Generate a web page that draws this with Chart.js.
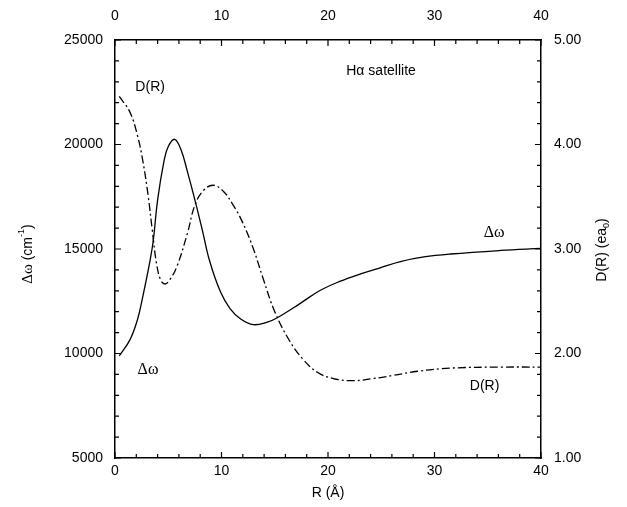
<!DOCTYPE html>
<html>
<head>
<meta charset="utf-8">
<script src="https://cdn.jsdelivr.net/npm/chart.js@4"></script>
<style>
html,body{margin:0;padding:0;background:#fff;}
#wrap{width:627px;height:507px;}
</style>
</head>
<body>
<div id="wrap"><canvas id="c" width="627" height="507"></canvas></div>
<script>
// ---- data ----
const R_omega = [0.4, 1.4, 2.1, 2.6, 3.3, 3.6, 4.0, 4.6, 5.0, 5.6, 6.2, 6.8, 7.5, 8.2, 8.9, 9.9, 10.8, 11.8, 13.0, 14.3, 15.2, 17.4, 19.2, 21.1, 23.0, 24.9, 26.8, 29.0, 31.5, 36.2, 40.0];
const omega   = [9880, 10650, 11600, 12700, 14470, 15430, 17340, 19200, 19900, 20250, 19750, 18700, 17350, 15900, 14400, 12950, 12150, 11650, 11380, 11500, 11700, 12400, 13000, 13450, 13800, 14100, 14400, 14620, 14760, 14930, 15030];
const R_D = [0.4, 1.4, 2.1, 2.6, 3.1, 3.5, 3.9, 4.3, 4.7, 5.1, 5.8, 6.8, 7.5, 8.3, 9.2, 10.1, 11.1, 12.0, 13.0, 13.9, 15.0, 16.4, 17.7, 19.0, 20.5, 22.4, 24.2, 26.1, 28.4, 31.5, 36.2, 40.0];
const D   = [4.46, 4.31, 4.09, 3.85, 3.52, 3.18, 2.86, 2.70, 2.665, 2.70, 2.83, 3.15, 3.42, 3.56, 3.61, 3.56, 3.42, 3.25, 3.00, 2.72, 2.40, 2.12, 1.94, 1.82, 1.76, 1.74, 1.76, 1.79, 1.83, 1.86, 1.87, 1.87];
const xTicks = [0, 10, 20, 30, 40];
const leftTicks = [5000, 10000, 15000, 20000, 25000];
const rightTicks = [1, 2, 3, 4, 5];

const SANS = '"Liberation Sans", Arial, sans-serif';
const SERIF = '"Liberation Serif", "Times New Roman", serif';

const omegaPts = R_omega.map((r, i) => ({x: r, y: omega[i]}));
const dPts = R_D.map((r, i) => ({x: r, y: D[i]}));

function fixedTicks(list) {
  return function(scale) { scale.ticks = list.map(v => ({value: v})); };
}

const tickPlugin = {
  id: 'innerTicks',
  afterDraw(chart) {
    const ctx = chart.ctx;
    const x = chart.scales.x, y = chart.scales.y, y2 = chart.scales.y2;
    const a = chart.chartArea;
    ctx.save();
    ctx.strokeStyle = '#000';
    ctx.lineWidth = 1.2;
    ctx.beginPath();
    for (let v = 0; v <= 40; v += 2) {
      const px = x.getPixelForValue(v);
      const len = (v % 10 === 0) ? 6 : 4;
      ctx.moveTo(px, a.bottom); ctx.lineTo(px, a.bottom - len);
      ctx.moveTo(px, a.top); ctx.lineTo(px, a.top + len);
    }
    for (let v = 5000; v <= 25000; v += 1000) {
      const py = y.getPixelForValue(v);
      const len = (v % 5000 === 0) ? 6 : 4;
      ctx.moveTo(a.left, py); ctx.lineTo(a.left + len, py);
    }
    for (let i = 0; i <= 20; i++) {
      const v = 1 + i * 0.2;
      const py = y2.getPixelForValue(v);
      const len = (i % 5 === 0) ? 6 : 4;
      ctx.moveTo(a.right, py); ctx.lineTo(a.right - len, py);
    }
    ctx.stroke();

    // annotations
    ctx.fillStyle = '#000';
    ctx.textAlign = 'center';
    ctx.textBaseline = 'middle';
    const P = (r, w) => [x.getPixelForValue(r), y.getPixelForValue(w)];
    ctx.font = '14px ' + SANS;
    let p = P(24.98, 23520); ctx.fillText('H\u03B1 satellite', p[0], p[1]);
    p = P(3.3, 22750); ctx.fillText('D(R)', p[0], p[1]);
    p = P(34.7, 8440); ctx.fillText('D(R)', p[0], p[1]);
    ctx.font = '16px ' + SERIF;
    p = P(3.1, 9210); ctx.fillText('\u0394\u03C9', p[0], p[1]);
    p = P(35.6, 15770); ctx.fillText('\u0394\u03C9', p[0], p[1]);

    // left axis title (rotated)
    const midY = (a.top + a.bottom) / 2;
    ctx.save();
    ctx.translate(28, midY + 5);
    ctx.rotate(-Math.PI / 2);
    ctx.textAlign = 'left';
    ctx.font = '15px ' + SERIF;
    const t0 = '\u0394\u03C9';
    const w0 = ctx.measureText(t0).width;
    ctx.font = '14px ' + SANS;
    const t1 = ' (cm';
    const w1 = ctx.measureText(t1).width;
    ctx.font = '9px ' + SANS;
    const w2 = ctx.measureText('-1').width;
    ctx.font = '14px ' + SANS;
    const w3 = ctx.measureText(')').width;
    let sx = -(w0 + w1 + w2 + w3) / 2;
    ctx.font = '15px ' + SERIF;
    ctx.fillText(t0, sx, 0);
    ctx.font = '14px ' + SANS;
    ctx.fillText(t1, sx + w0, 0);
    ctx.font = '9px ' + SANS;
    ctx.fillText('-1', sx + w0 + w1, -6);
    ctx.font = '14px ' + SANS;
    ctx.fillText(')', sx + w0 + w1 + w2, 0);
    ctx.restore();

    // right axis title (rotated, reading upward)
    ctx.save();
    ctx.translate(602, midY + 1);
    ctx.rotate(-Math.PI / 2);
    ctx.textAlign = 'left';
    ctx.font = '14px ' + SANS;
    const r1 = 'D(R) (ea';
    const rw1 = ctx.measureText(r1).width;
    ctx.font = '9px ' + SANS;
    const rw2 = ctx.measureText('0').width;
    ctx.font = '14px ' + SANS;
    const rw3 = ctx.measureText(')').width;
    sx = -(rw1 + rw2 + rw3) / 2;
    ctx.fillText(r1, sx, 0);
    ctx.font = '9px ' + SANS;
    ctx.fillText('0', sx + rw1, 5);
    ctx.font = '14px ' + SANS;
    ctx.fillText(')', sx + rw1 + rw2, 0);
    ctx.restore();

    ctx.restore();
  }
};

const tickFont = {family: SANS, size: 14};
const noGrid = {display: false, drawTicks: false};
const border = {display: true, color: '#000', width: 1.5};

new Chart(document.getElementById('c'), {
  type: 'line',
  data: {
    datasets: [
      {label: 'omega', data: omegaPts, xAxisID: 'x', yAxisID: 'y', borderColor: '#000', borderWidth: 1.3,
       pointRadius: 0, fill: false, tension: 0.4},
      {label: 'D', data: dPts, xAxisID: 'x', yAxisID: 'y2', borderColor: '#000', borderWidth: 1.3,
       borderDash: [8, 3, 2, 3], pointRadius: 0, fill: false, tension: 0.4}
    ]
  },
  options: {
    responsive: false,
    animation: false,
    devicePixelRatio: 1,
    layout: {padding: 0},
    plugins: {legend: {display: false}, tooltip: {enabled: false}},
    scales: {
      x: {type: 'linear', position: 'bottom', min: 0, max: 40,
          afterBuildTicks: fixedTicks(xTicks),
          ticks: {font: tickFont, color: '#000', padding: 5, maxRotation: 0},
          grid: noGrid, border: border,
          title: {display: true, text: 'R (\u00C5)', font: {family: SANS, size: 14}, color: '#000', padding: {top: 0, bottom: 5}},
          afterFit: s => { s.height = 49; }},
      x2: {type: 'linear', position: 'top', min: 0, max: 40,
          afterBuildTicks: fixedTicks(xTicks),
          ticks: {font: tickFont, color: '#000', padding: 15, maxRotation: 0},
          grid: noGrid, border: border,
          afterFit: s => { s.height = 40; }},
      y: {type: 'linear', position: 'left', min: 5000, max: 25000,
          afterBuildTicks: fixedTicks(leftTicks),
          ticks: {font: tickFont, color: '#000', padding: 12, callback: v => String(v)},
          grid: noGrid, border: border,
          afterFit: s => { s.width = 115; }},
      y2: {type: 'linear', position: 'right', min: 1, max: 5,
          afterBuildTicks: fixedTicks(rightTicks),
          ticks: {font: tickFont, color: '#000', padding: 13, callback: v => Number(v).toFixed(2)},
          grid: noGrid, border: border,
          afterFit: s => { s.width = 86; }}
    }
  },
  plugins: [tickPlugin]
});
</script>
</body>
</html>
